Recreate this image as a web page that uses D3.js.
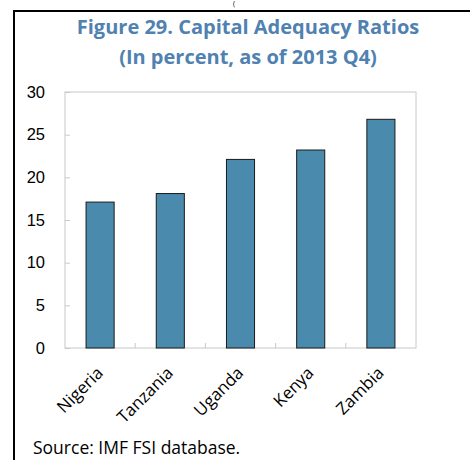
<!DOCTYPE html>
<html>
<head>
<meta charset="utf-8">
<script src="https://cdn.jsdelivr.net/npm/d3@7"></script>
<style>
  body { margin: 0; background: #fff; }
  svg { display: block; font-family: "Open Sans", "Noto Sans", sans-serif; }
</style>
</head>
<body>
<div id="chart"></div>
<script>
// data
const countries = ["Nigeria", "Tanzania", "Uganda", "Kenya", "Zambia"];
const car = [17.1, 18.1, 22.1, 23.2, 26.8];
const yTicks = [0, 5, 10, 15, 20, 25, 30];

const W = 470, H = 460;
const margin = { top: 92, right: 54, bottom: 112, left: 65 },
    width = W - margin.left - margin.right,
    height = H - margin.top - margin.bottom;

const svg = d3.select("#chart").append("svg")
    .attr("width", W)
    .attr("height", H);

// outer frame (left + top only visible)
svg.append("path")
    .attr("d", "M14,460 L14,11 L470,11")
    .attr("fill", "none")
    .attr("stroke", "#000")
    .attr("stroke-width", 2);

// stray bracket from the page above
svg.append("text").attr("x", 233).attr("y", 6).text("(")
    .style("font-size", "7px").attr("fill", "#000");

// title
const title = svg.append("text")
    .attr("text-anchor", "middle")
    .attr("fill", "#4f81b1")
    .style("font-weight", "bold")
    .style("font-size", "20px");
title.append("tspan").attr("x", 248).attr("y", 34).text("Figure 29. Capital Adequacy Ratios");
title.append("tspan").attr("x", 248).attr("y", 64).text("(In percent, as of 2013 Q4)");

const g = svg.append("g").attr("transform", `translate(${margin.left},${margin.top})`);

const x = d3.scaleBand().domain(countries).range([0, width]).paddingInner(0).paddingOuter(0);
const y = d3.scaleLinear().domain([0, 30]).range([height, 0]);

// plot area border
g.append("rect")
    .attr("x", 0).attr("y", 0)
    .attr("width", width).attr("height", height)
    .attr("fill", "none")
    .attr("stroke", "#c8c8c8")
    .attr("stroke-width", 1);

// y axis
const yAxis = g.append("g")
    .call(d3.axisLeft(y).tickValues(yTicks).tickSize(-5).tickPadding(20));
yAxis.select(".domain").remove();
yAxis.selectAll("line").attr("stroke", "#c8c8c8");
yAxis.selectAll("text").style("font-size", "16.5px").attr("fill", "#000");

// x ticks at category boundaries
const bounds = countries.slice(1).map(c => x(c));
g.selectAll(".xtick").data(bounds).enter().append("line")
    .attr("class", "xtick")
    .attr("x1", d => d).attr("x2", d => d)
    .attr("y1", height).attr("y2", height - 5)
    .attr("stroke", "#c8c8c8");

// bars
const bw = x.bandwidth() * 0.4;
g.selectAll(".bar").data(car).enter().append("rect")
    .attr("class", "bar")
    .attr("x", (d, i) => x(countries[i]) + x.bandwidth() / 2 - bw / 2)
    .attr("y", d => y(d))
    .attr("width", bw)
    .attr("height", d => height - y(d))
    .attr("fill", "#4a8bad")
    .attr("stroke", "#1a1a1a")
    .attr("stroke-width", 1);

// rotated category labels
g.selectAll(".xlab").data(countries).enter().append("text")
    .attr("class", "xlab")
    .attr("text-anchor", "end")
    .attr("transform", d => `translate(${x(d) + x.bandwidth() / 2 + 4},${height + 26}) rotate(-45)`)
    .style("font-size", "17px")
    .attr("fill", "#000")
    .text(d => d);

// source note
svg.append("text")
    .attr("x", 33).attr("y", 454)
    .style("font-size", "17.5px")
    .attr("fill", "#000")
    .text("Source: IMF FSI database.");
</script>
</body>
</html>
